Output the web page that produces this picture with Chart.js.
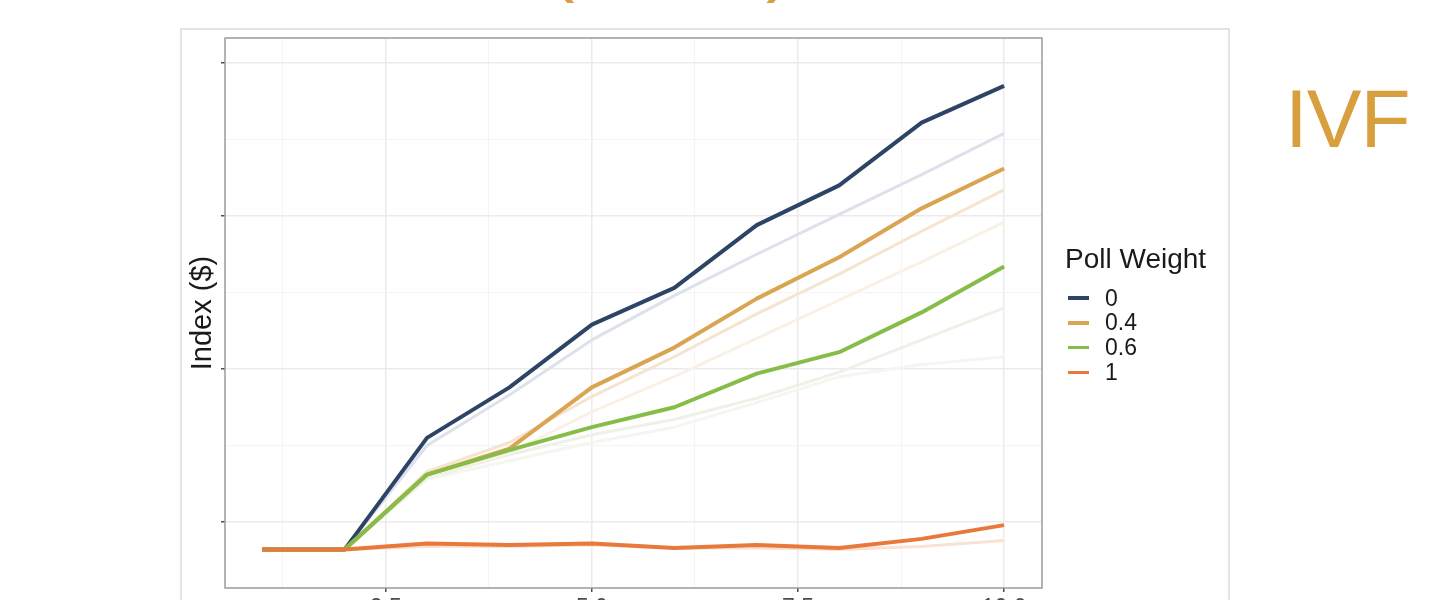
<!DOCTYPE html>
<html>
<head>
<meta charset="utf-8">
<script src="https://cdn.jsdelivr.net/npm/chart.js@4.4.1/dist/chart.umd.min.js"></script>
<style>
  html, body { margin: 0; padding: 0; background: #fff; width: 1440px; height: 600px; overflow: hidden; font-family: "Liberation Sans", Arial, sans-serif; }
  #frame { position: absolute; left: 180px; top: 28px; width: 1050px; height: 640px; border: 2px solid #e4e4e4; box-sizing: border-box; }
  #wrap { position: absolute; left: 180px; top: 28px; width: 1050px; height: 640px; }
  #legend { position: absolute; left: 1065px; top: 245px; color: #1a1a1a; }
  .lg-title { font-size: 28px; line-height: 28px; white-space: nowrap; }
  .lg-row { position: absolute; left: 3px; height: 24px; display: flex; align-items: center; font-size: 23px; white-space: nowrap; }
  .lg-key { display: inline-block; width: 21px; height: 3.5px; margin-right: 16px; }
  #ivf { position: absolute; left: 1285px; top: 78px; font-size: 82px; line-height: 82px; color: #d89f3e; letter-spacing: -1px; }
  .paren { position: absolute; top: -81px; font-size: 80px; line-height: 80px; color: #d89f3e; }
</style>
</head>
<body>
<span class="paren" style="left:548px">(</span>
<span class="paren" style="left:766px">)</span>
<div id="frame"></div>
<div id="wrap"><canvas id="chart"></canvas></div>
<div id="legend"><div class="lg-title">Poll Weight</div></div>
<div id="ivf">IVF</div>

<script>

/* DATOS */

const periods = [1, 2, 3, 4, 5, 6, 7, 8, 9, 10];

const weightLabels = ['0', '0.4', '0.6', '1'];
const weightColors = ['#2d4466', '#d9a552', '#86bd48', '#e8793a'];

const weight0  = [0.82, 0.82, 1.55, 1.88, 2.29, 2.53, 2.94, 3.20, 3.61, 3.85];
const weight04 = [0.82, 0.82, 1.31, 1.48, 1.88, 2.14, 2.46, 2.73, 3.05, 3.31];
const weight06 = [0.82, 0.82, 1.31, 1.47, 1.62, 1.75, 1.97, 2.11, 2.37, 2.67];
const weight1  = [0.82, 0.82, 0.86, 0.85, 0.86, 0.83, 0.85, 0.83, 0.89, 0.98];

// faded runs behind the main lines
const fadedA = [0.82, 0.82, 1.50, 1.83, 2.19, 2.48, 2.75, 3.01, 3.27, 3.54];
const fadedB = [0.82, 0.82, 1.33, 1.52, 1.82, 2.08, 2.36, 2.62, 2.90, 3.17];
const fadedC = [0.82, 0.82, 1.30, 1.45, 1.72, 1.95, 2.20, 2.45, 2.70, 2.96];
const fadedD = [0.82, 0.82, 1.29, 1.44, 1.57, 1.67, 1.81, 1.98, 2.19, 2.40];
const fadedE = [0.82, 0.82, 1.28, 1.40, 1.52, 1.62, 1.78, 1.95, 2.03, 2.08];
const fadedF = [0.82, 0.82, 0.84, 0.84, 0.85, 0.83, 0.83, 0.82, 0.84, 0.88];
const fadedColors = ['#dde1eb', '#f5e5cf', '#faf1e6', '#eef1e7', '#f5f6f0', '#f9e2d3'];

const xTicks = [1.25, 2.5, 3.75, 5, 6.25, 7.5, 8.75, 10];
const xMajor = [2.5, 5, 7.5, 10];
const yTicks = [1, 1.5, 2, 2.5, 3, 3.5, 4];
const yMajor = [1, 2, 3, 4];

/* DATASETS */

function puntos(valores){
    return periods.map((p, i) => ({ x: p, y: valores[i] }));
}

let datasets = [];

[fadedA, fadedB, fadedC, fadedD, fadedE, fadedF].forEach((serie, i) => {
    datasets.push({
        label: 'faded' + i,
        data: puntos(serie),
        borderColor: fadedColors[i],
        borderWidth: 3,
        pointRadius: 0,
        borderJoinStyle: 'round',
        order: 20 + i
    });
});

[weight0, weight04, weight06, weight1].forEach((serie, i) => {
    datasets.push({
        label: weightLabels[i],
        data: puntos(serie),
        borderColor: weightColors[i],
        borderWidth: 4,
        pointRadius: 0,
        borderJoinStyle: 'round',
        order: 3 - i
    });
});

/* GRID */

function gridColor(majors){
    return ctx => (ctx.tick && majors.includes(ctx.tick.value)) ? '#ebebeb' : '#f4f4f4';
}

function gridWidth(majors){
    return ctx => (ctx.tick && majors.includes(ctx.tick.value)) ? 1.5 : 1;
}

function tickColor(majors){
    return ctx => (ctx.tick && majors.includes(ctx.tick.value)) ? '#4d4d4d' : 'rgba(0,0,0,0)';
}

const panelBorder = {
    id: 'panelBorder',
    afterDraw(chart){
        const {ctx, chartArea: a} = chart;
        ctx.save();
        ctx.strokeStyle = '#9a9a9a';
        ctx.lineWidth = 1.5;
        ctx.strokeRect(a.left, a.top, a.right - a.left, a.bottom - a.top);
        ctx.restore();
    }
};

/* GRAFICO */

new Chart(document.getElementById('chart'), {
    type: 'line',
    data: { datasets: datasets },
    options: {
        responsive: true,
        maintainAspectRatio: false,
        animation: false,
        layout: { padding: { left: 0, right: 188, top: 10, bottom: 0 } },
        plugins: {
            legend: { display: false },
            tooltip: { enabled: false }
        },
        scales: {
            x: {
                type: 'linear',
                min: 0.55,
                max: 10.46,
                afterBuildTicks: scale => { scale.ticks = xTicks.map(v => ({ value: v })); },
                afterFit: scale => { scale.height = 80; },
                border: { display: false },
                grid: {
                    color: gridColor(xMajor),
                    lineWidth: gridWidth(xMajor),
                    tickColor: tickColor(xMajor),
                    tickLength: 4,
                    tickWidth: 1.5
                },
                ticks: {
                    autoSkip: false,
                    maxRotation: 0,
                    padding: 3,
                    color: '#4d4d4d',
                    font: { family: '"Liberation Sans", Arial, sans-serif', size: 23 },
                    callback: v => xMajor.includes(v) ? v.toFixed(1) : ''
                }
            },
            y: {
                type: 'linear',
                min: 0.569,
                max: 4.163,
                afterBuildTicks: scale => { scale.ticks = yTicks.map(v => ({ value: v })); },
                afterFit: scale => { scale.width = 45; },
                border: { display: false },
                grid: {
                    color: gridColor(yMajor),
                    lineWidth: gridWidth(yMajor),
                    tickColor: tickColor(yMajor),
                    tickLength: 4,
                    tickWidth: 1.5
                },
                ticks: { display: false },
                title: {
                    display: true,
                    text: 'Index ($)',
                    color: '#1a1a1a',
                    padding: { top: 6, bottom: 0 },
                    font: { family: '"Liberation Sans", Arial, sans-serif', size: 29 }
                }
            }
        }
    },
    plugins: [panelBorder]
});

/* LEYENDA */

let legend = document.getElementById('legend');

weightLabels.forEach((lab, i) => {
    let row = document.createElement('div');
    row.className = 'lg-row';
    row.style.top = (41 + i * 24.8) + 'px';
    row.innerHTML = '<span class="lg-key" style="background:' + weightColors[i] + '"></span>' + lab;
    legend.appendChild(row);
});

</script>
</body>
</html>
